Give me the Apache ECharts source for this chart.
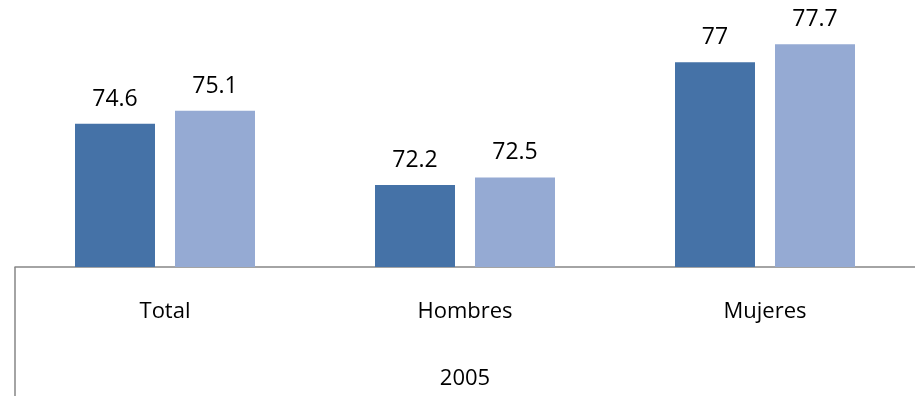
<!DOCTYPE html>
<html>
<head>
<meta charset="utf-8">
<script src="https://cdn.jsdelivr.net/npm/echarts@6/dist/echarts.min.js"></script>
<style>
  html, body { margin: 0; padding: 0; background: #fff; }
  #chart { width: 915px; height: 396px; }
</style>
</head>
<body>
<div id="chart"></div>
<script>
// Life expectancy by sex, two series per group
const categories = ['Total', 'Hombres', 'Mujeres'];
const groupLabels = ['2005'];
const seriesA = [74.6, 72.2, 77];
const seriesB = [75.1, 72.5, 77.7];

const FONT = '"Open Sans", "Noto Sans", sans-serif';
const axisGray = '#868686';
const W = 915, H = 396;
const GRID = { left: 15, right: 0, top: 11, bottom: 129 };

const chart = echarts.init(document.getElementById('chart'));

const barLabel = {
  show: true,
  position: 'top',
  distance: 13,
  color: '#000',
  fontFamily: FONT,
  fontSize: 23
};

chart.setOption({
  animation: false,
  grid: Object.assign({ containLabel: false }, GRID),
  // left border of the outer (year) level of the category axis
  graphic: [{
    type: 'line',
    silent: true,
    shape: { x1: GRID.left, y1: H - GRID.bottom, x2: GRID.left, y2: H },
    style: { stroke: axisGray, lineWidth: 1.5 }
  }],
  xAxis: [
    {
      type: 'category',
      data: categories,
      position: 'bottom',
      axisLine: { show: true, lineStyle: { color: axisGray, width: 1.5 } },
      axisTick: { show: false },
      axisLabel: { color: '#000', fontFamily: FONT, fontSize: 22, margin: 34 }
    },
    {
      type: 'category',
      data: groupLabels,
      position: 'bottom',
      axisLine: { show: false },
      axisTick: { show: false },
      axisLabel: { color: '#000', fontFamily: FONT, fontSize: 22, margin: 101 }
    }
  ],
  yAxis: {
    type: 'value',
    min: 69,
    max: 79,
    show: false,
    splitLine: { show: false }
  },
  series: [
    {
      type: 'bar',
      xAxisIndex: 0,
      data: seriesA,
      barWidth: 80,
      barGap: '25%',
      itemStyle: { color: '#4572A7' },
      label: barLabel
    },
    {
      type: 'bar',
      xAxisIndex: 0,
      data: seriesB,
      barWidth: 80,
      barGap: '25%',
      itemStyle: { color: '#95AAD3' },
      label: barLabel
    }
  ]
});
</script>
</body>
</html>
